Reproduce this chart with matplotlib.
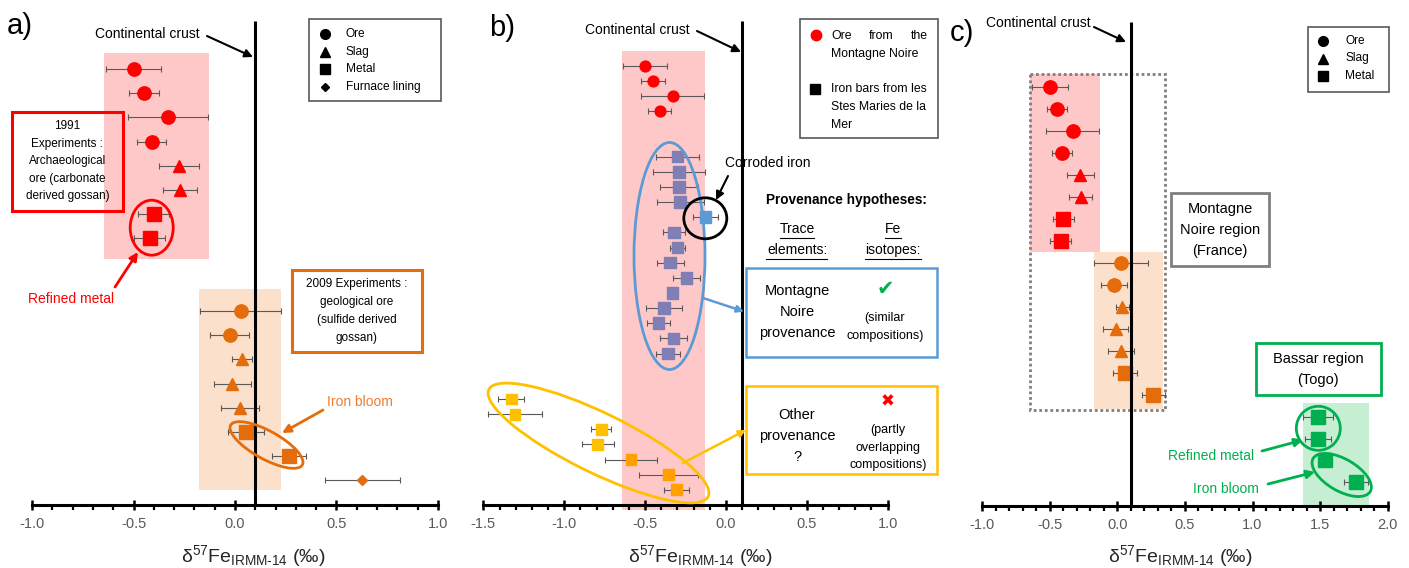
import numpy as np
import matplotlib.pyplot as plt
import matplotlib.transforms as mtransforms
from matplotlib.patches import Rectangle, Ellipse, FancyArrowPatch
from matplotlib.lines import Line2D
from matplotlib.ticker import FixedLocator, FormatStrFormatter

plt.rcParams['font.family'] = ['Liberation Sans', 'DejaVu Sans']
plt.rcParams['axes.unicode_minus'] = False
plt.rcParams['mathtext.fontset'] = 'custom'
plt.rcParams['mathtext.rm'] = 'Liberation Sans'
plt.rcParams['mathtext.it'] = 'Liberation Sans:italic'

# ---- delta57Fe values (per mil) ----
crust = 0.1

# 1991 experiments, archaeological ore (Montagne Noire)
mn_ore = [-0.50, -0.45, -0.33, -0.41]
mn_ore_err = [0.135, 0.074, 0.197, 0.072]
mn_slag = [-0.275, -0.27]
mn_slag_err = [0.10, 0.085]
mn_metal = [-0.40, -0.42]
mn_metal_err = [0.076, 0.076]

# 2009 experiments, geological ore
geo_ore = [0.028, -0.025]
geo_ore_err = [0.20, 0.096]
geo_slag = [0.036, -0.013, 0.025]
geo_slag_err = [0.05, 0.09, 0.095]
geo_metal = [0.054, 0.265]
geo_metal_err = [0.09, 0.085]
lining = [0.627]
lining_err = [0.185]

# iron bars from les Stes Maries de la Mer
bars = [-0.30, -0.288, -0.29, -0.282, -0.127, -0.32, -0.30,
        -0.344, -0.243, -0.33, -0.383, -0.416, -0.325, -0.358]
bars_err = [0.134, 0.16, 0.12, 0.147, 0.077, 0.069, 0.046,
            0.082, 0.085, 0.0, 0.114, 0.072, 0.085, 0.076]
corroded = 4
other = [-1.327, -1.304, -0.77, -0.793, -0.587, -0.354, -0.307]
other_err = [0.081, 0.168, 0.062, 0.10, 0.162, 0.182, 0.077]

# Bassar region (Togo)
bassar = [1.487, 1.487, 1.539, 1.764]
bassar_err = [0.11, 0.096, 0.0, 0.09]

# shaded ranges
range_mn = [-0.644, -0.13]
range_geo_a = [-0.176, 0.227]
range_geo_c = [-0.175, 0.34]
range_bassar = [1.376, 1.86]

RED = '#ff0000'
PINK = '#ffc8c8'
ORANGE = '#e46c0a'
PEACH = '#fbe0cb'
GREEN = '#00b050'
MINT = '#c6eed2'
PURPLE = '#7f7fb5'
LBLUE = '#5b9bd5'
GOLD = '#ffc000'
AMBER = '#ffa000'
GREY = '#7f7f7f'

W, H, DPI = 1409, 568, 100
fig = plt.figure(figsize=(W / DPI, H / DPI), dpi=DPI)
# pixel coordinates measured from the top-left corner
pix = mtransforms.Affine2D().scale(1 / DPI, -1 / DPI).translate(0, H / DPI) + fig.dpi_scale_trans


def panel(left, right, zero, ppu, row0, pitch, spine_px, vtop_px, xmin, xmax):
    ax = fig.add_axes([left / W, 0, (right - left) / W, 1])
    ax.set_xlim((left - zero) / ppu, (right - zero) / ppu)
    ax.set_ylim((H - row0) / pitch, -row0 / pitch)
    ax.patch.set_visible(False)
    for s in ['left', 'right', 'top']:
        ax.spines[s].set_visible(False)
    spine_row = (spine_px - row0) / pitch
    ax.spines['bottom'].set_position(('data', spine_row))
    ax.spines['bottom'].set_bounds(xmin, xmax)
    ax.spines['bottom'].set_linewidth(2.2)
    ax.set_yticks([])
    ax.xaxis.set_major_locator(FixedLocator(np.arange(xmin, xmax + 0.01, 0.5)))
    ax.xaxis.set_minor_locator(FixedLocator(np.arange(xmin, xmax + 0.01, 0.1)))
    ax.xaxis.set_major_formatter(FormatStrFormatter('%.1f'))
    ax.tick_params(axis='x', which='major', direction='inout', length=7.5, width=1.8,
                   pad=5, labelsize=10.5, labelcolor='#595959')
    ax.tick_params(axis='x', which='minor', direction='out', length=3.5, width=1.6)
    ax.vlines(crust, (vtop_px - row0) / pitch, spine_row, color='black', lw=2.2, zorder=4)
    return ax, spine_row


def pts(ax, x, err, rows, marker, color, ms):
    ax.errorbar(x, rows, xerr=err, fmt='none', ecolor='#595959', elinewidth=0.8,
                capsize=2.5, capthick=0.8, zorder=2)
    ax.plot(x, rows, ls='none', marker=marker, ms=ms, color=color, mec=color, zorder=3)


def band(ax, xr, r0, r1, color):
    ax.add_patch(Rectangle((xr[0], r0), xr[1] - xr[0], r1 - r0, fc=color, ec='none', zorder=0))


def ftext(x, y, s, size=10, ha='center', va='center', **kw):
    fig.text(x, y, s, transform=pix, fontsize=size, ha=ha, va=va, **kw)


def fstack(x, y0, step, lines, size, **kw):
    for i, s in enumerate(lines):
        ftext(x, y0 + i * step, s, size, **kw)


def fbox(x0, y0, x1, y1, ec, lw=2):
    fig.add_artist(Rectangle((x0, y0), x1 - x0, y1 - y0, transform=pix, fc='none', ec=ec, lw=lw))


def fell(cx, cy, w, h, ec, angle=0, lw=2):
    fig.add_artist(Ellipse((cx, cy), w, h, angle=angle, transform=pix, fc='none', ec=ec, lw=lw))


def farrow(x0, y0, x1, y1, color='black', lw=1.5, ms=12):
    fig.add_artist(FancyArrowPatch((x0, y0), (x1, y1), transform=pix, arrowstyle='-|>',
                                   mutation_scale=ms, color=color, lw=lw, shrinkA=0, shrinkB=0))


def fmark(x, y, marker, color='black', ms=7):
    fig.add_artist(Line2D([x], [y], marker=marker, ms=ms, color=color, ls='none', transform=pix))


def fline(x0, x1, y, color='black', lw=0.8):
    fig.add_artist(Line2D([x0, x1], [y, y], color=color, lw=lw, transform=pix))


xlabel = r'δ$^{57}$Fe$_{\mathrm{IRMM‐14}}$ (‰)'

# ================= panel a =================
ax, _ = panel(0, 470, 235, 203, 69, 24.2, 505, 21, -1.0, 1.0)
band(ax, range_mn, -0.65, 7.85, PINK)
band(ax, range_geo_a, 9.1, 17.4, PEACH)
pts(ax, mn_ore, mn_ore_err, np.arange(0, 4), 'o', RED, 9.6)
pts(ax, mn_slag, mn_slag_err, np.arange(4, 6), '^', RED, 9)
pts(ax, mn_metal, mn_metal_err, np.arange(6, 8), 's', RED, 9.6)
pts(ax, geo_ore, geo_ore_err, np.arange(10, 12), 'o', ORANGE, 9.6)
pts(ax, geo_slag, geo_slag_err, np.arange(12, 15), '^', ORANGE, 9)
pts(ax, geo_metal, geo_metal_err, np.arange(15, 17), 's', ORANGE, 9.6)
pts(ax, lining, lining_err, [17], 'D', ORANGE, 5.2)

ftext(20, 26, 'a)', 21)
ftext(147, 34, 'Continental crust', 10)
farrow(207, 36, 253, 57)
fbox(309, 19, 441, 101, '#595959', lw=1.2)
for y, m, lab, s in [(34, 'o', 'Ore', 7), (51.5, '^', 'Slag', 7),
                     (69, 's', 'Metal', 6.5), (87, 'D', 'Furnace lining', 4.5)]:
    fmark(325, y, m, ms=s)
    ftext(346, y, lab, 8.6, ha='left')
fbox(11.7, 111.7, 123, 211, RED, lw=2.2)
fstack(67.4, 126, 17.6, ['1991', 'Experiments :', 'Archaeological',
                         'ore (carbonate', 'derived gossan)'], 8.5)
fell(151.7, 227.7, 43, 55, RED)
farrow(115, 287, 138, 252, RED, lw=2)
ftext(71.5, 299, 'Refined metal', 10, color=RED)
fbox(291.7, 270, 422, 351.7, ORANGE, lw=2.2)
fstack(357, 284, 18, ['2009 Experiments :', 'geological ore',
                      '(sulfide derived', 'gossan)'], 8.5)
fell(266.5, 445, 82, 28, ORANGE, angle=29)
ftext(360, 402, 'Iron bloom', 10, color='#ed7d31')
farrow(323, 410, 282, 433, ORANGE, lw=2)
ftext(253, 562, xlabel, 14, va='baseline', color='#262626')

# ================= panel b =================
ax, _ = panel(470, 950, 725.9, 161.7, 65.7, 15.15, 505, 21, -1.5, 1.0)
band(ax, range_mn, -1.0, 29.3, PINK)
pts(ax, mn_ore, mn_ore_err, np.arange(0, 4), 'o', RED, 7.8)
bar_rows = np.arange(6, 6 + len(bars))
bar_cols = [LBLUE if i == corroded else PURPLE for i in range(len(bars))]
ax.errorbar(bars, bar_rows, xerr=bars_err, fmt='none', ecolor='#595959', elinewidth=0.8,
            capsize=2.5, capthick=0.8, zorder=2)
ax.scatter(bars, bar_rows, marker='s', s=8.4 ** 2, c=bar_cols, zorder=3)
other_rows = np.arange(22, 22 + len(other))
other_cols = [GOLD] * 4 + [AMBER] * 3
ax.errorbar(other, other_rows, xerr=other_err, fmt='none', ecolor='#595959', elinewidth=0.8,
            capsize=2.5, capthick=0.8, zorder=2)
ax.scatter(other, other_rows, marker='s', s=7.8 ** 2, c=other_cols, zorder=3)

ftext(502, 28, 'b)', 21)
ftext(637, 30, 'Continental crust', 10)
farrow(697, 31, 741, 52)
fbox(800.3, 19.3, 937.7, 138.3, '#595959', lw=1.2)
fmark(816, 35, 'o', RED, 7.5)
ftext(831, 36, 'Ore', 8.8, ha='left')
ftext(881, 36, 'from', 8.8)
ftext(928, 36, 'the', 8.8, ha='right')
ftext(831, 54, 'Montagne Noire', 8.8, ha='left')
fmark(815, 89, 's', 'black', 7)
fstack(831, 89, 18, ['Iron bars from les', 'Stes Maries de la', 'Mer'], 8.8, ha='left')
fell(669.5, 256, 71, 227, LBLUE)
fell(705.3, 218.3, 43, 41, 'black')
ftext(768, 163, 'Corroded iron', 10)
farrow(728, 176, 716, 200)
ftext(846, 200, 'Provenance hypotheses:', 9.8, fontweight='bold')
fstack(797, 229, 21, ['Trace', 'elements:'], 10)
fstack(893, 229, 21, ['Fe', 'isotopes:'], 10)
fline(780, 814, 237.5)
fline(766, 827, 258.5)
fline(885, 901, 237.5)
fline(865, 921, 258.5)
fbox(746, 268.3, 936.7, 357.3, LBLUE, lw=1.8)
fstack(797, 291, 21, ['Montagne', 'Noire', 'provenance'], 10.5)
ftext(885, 289, '✔', 15, color=GREEN, family='DejaVu Sans')
fstack(885, 318, 18, ['(similar', 'compositions)'], 9)
farrow(703, 298, 744, 311.5, LBLUE, lw=1.8, ms=10)
fbox(746, 386, 936.7, 474, GOLD, lw=1.8)
fstack(797, 415, 21, ['Other', 'provenance', '?'], 10.5)
ftext(888, 402, '✖', 12, color=RED, family='DejaVu Sans')
fstack(888, 430, 17.5, ['(partly', 'overlapping', 'compositions)'], 9)
fell(598.5, 443, 244, 60, GOLD, angle=26)
farrow(683, 463, 746, 430, GOLD, lw=1.8, ms=10)
ftext(700, 562, xlabel, 14, va='baseline', color='#262626')

# ================= panel c =================
ax, _ = panel(950, 1409, 1117.4, 135.1, 87.3, 21.95, 506, 22, -1.0, 2.0)
band(ax, range_mn, -0.6, 7.5, PINK)
band(ax, range_geo_c, 7.5, 14.65, PEACH)
band(ax, range_bassar, 14.4, 19.1, MINT)
ax.add_patch(Rectangle((-0.645, -0.6), 0.997, 15.3, fc='none', ec=GREY,
                       lw=2, ls=(0, (1, 1)), zorder=1))
pts(ax, mn_ore, mn_ore_err, np.arange(0, 4), 'o', RED, 9.6)
pts(ax, mn_slag, mn_slag_err, np.arange(4, 6), '^', RED, 9)
pts(ax, mn_metal, mn_metal_err, np.arange(6, 8), 's', RED, 9.6)
pts(ax, geo_ore, geo_ore_err, np.arange(8, 10), 'o', ORANGE, 9.6)
pts(ax, geo_slag, geo_slag_err, np.arange(10, 13), '^', ORANGE, 9)
pts(ax, geo_metal, geo_metal_err, np.arange(13, 15), 's', ORANGE, 9.6)
pts(ax, bassar, bassar_err, np.arange(15, 19), 's', GREEN, 9.6)

ftext(962, 33, 'c)', 21)
ftext(1038, 23, 'Continental crust', 10)
farrow(1094, 27, 1126, 42)
fbox(1307.7, 26.7, 1389.3, 91.7, '#595959', lw=1.2)
for y, m, lab, s in [(40.5, 'o', 'Ore', 7), (58.5, '^', 'Slag', 7), (76, 's', 'Metal', 6.5)]:
    fmark(1323, y, m, ms=s)
    ftext(1345, y, lab, 8.6, ha='left')
fbox(1170.7, 192.7, 1268.7, 265.7, GREY, lw=2)
fstack(1220, 209, 21, ['Montagne', 'Noire region', '(France)'], 10.5)
fbox(1256, 342.7, 1380.7, 395.3, GREEN, lw=2)
fstack(1318, 359, 21, ['Bassar region', '(Togo)'], 10.5)
fell(1318.3, 428.3, 44, 44, GREEN)
fell(1341.7, 475, 66, 32, GREEN, angle=30)
ftext(1211, 456, 'Refined metal', 10, color=GREEN)
farrow(1262, 451, 1303, 440, GREEN, lw=2)
ftext(1226, 489, 'Iron bloom', 10, color=GREEN)
farrow(1268, 484, 1315, 472, GREEN, lw=2)
ftext(1180, 562, xlabel, 14, va='baseline', color='#262626')

fig.savefig('out.png', dpi=DPI)
